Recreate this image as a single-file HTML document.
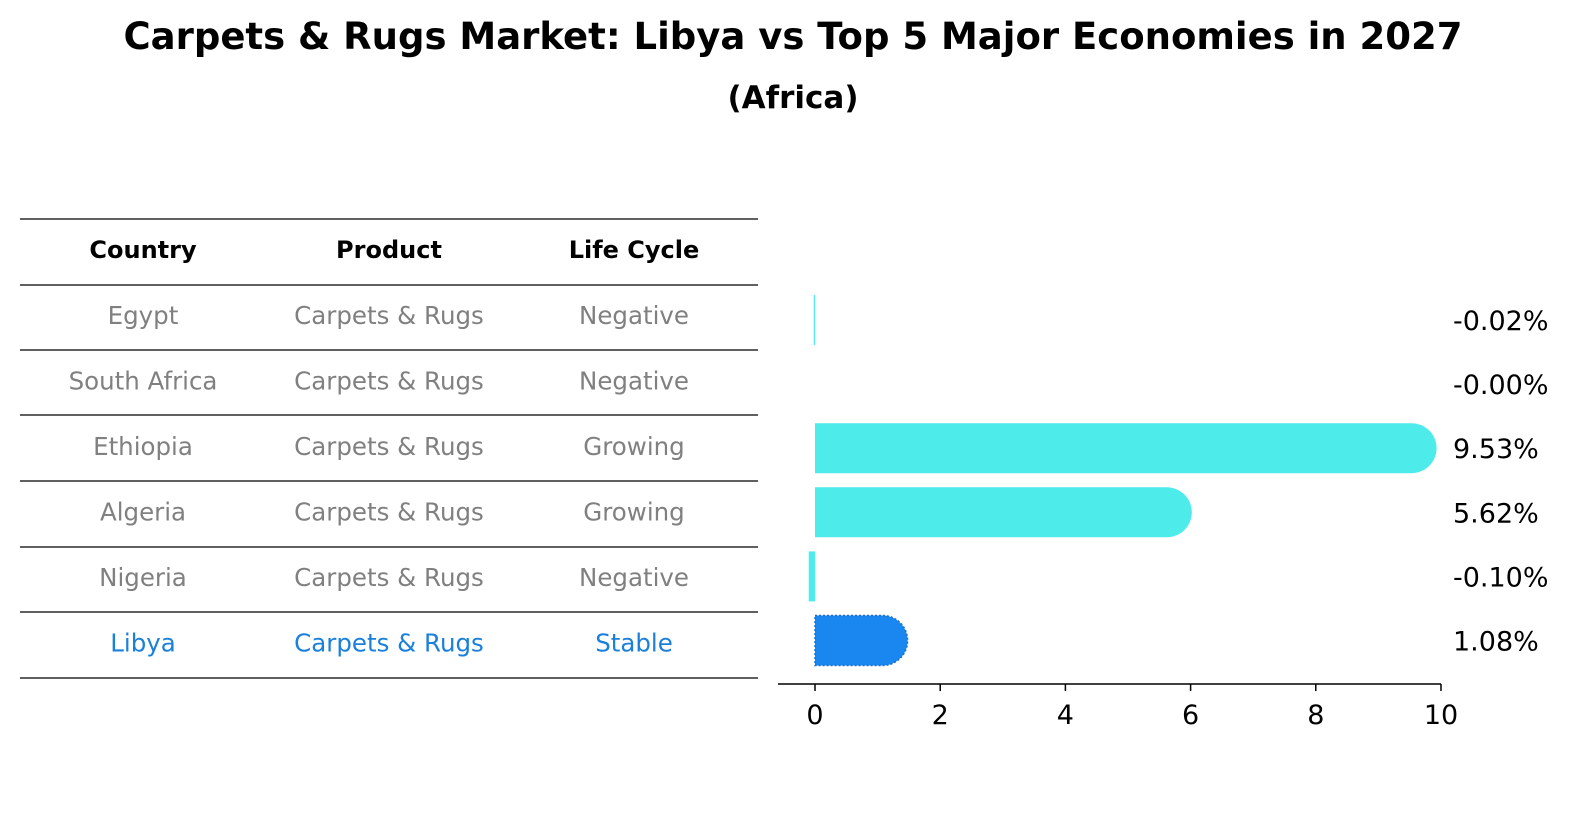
<!DOCTYPE html>
<html><head><meta charset="utf-8"><style>
body{margin:0;background:#fff;font-family:"DejaVu Sans","Liberation Sans",sans-serif}
svg text{font-family:"DejaVu Sans","Liberation Sans",sans-serif}
</style></head><body>
<svg width="1596" height="823" viewBox="0 0 1596 823" xmlns="http://www.w3.org/2000/svg">
<text x="793" y="49" text-anchor="middle" font-size="37" font-weight="bold">Carpets &amp; Rugs Market: Libya vs Top 5 Major Economies in 2027</text>
<text x="793" y="108" text-anchor="middle" font-size="31" font-weight="bold">(Africa)</text>
<g id="table"></g>
<g id="bars"></g>
<g id="axis"></g>
</svg>
<script>
const countries=["Egypt","South Africa","Ethiopia","Algeria","Nigeria","Libya"];
const products=["Carpets & Rugs","Carpets & Rugs","Carpets & Rugs","Carpets & Rugs","Carpets & Rugs","Carpets & Rugs"];
const lifeCycles=["Negative","Negative","Growing","Growing","Negative","Stable"];
const values=[-0.02,-0.00,9.53,5.62,-0.10,1.08];
const valueLabels=["-0.02%","-0.00%","9.53%","5.62%","-0.10%","1.08%"];
const ticks=[0,2,4,6,8,10];
const NS="http://www.w3.org/2000/svg";
function mk(t,a,p){const e=document.createElementNS(NS,t);for(const k in a)e.setAttribute(k,a[k]);p.appendChild(e);return e;}
const xs=v=>815+v*62.6;
const rowY=i=>320+i*64.1;
const tb=document.getElementById('table');
const lineYs=[219,285,350,415,481,547,612,678];
lineYs.forEach(y=>{const l=mk('line',{x1:20,x2:758,y1:y,y2:y,stroke:'#000','stroke-width':1.2},tb);

});
const cx=[143,389,634];
["Country","Product","Life Cycle"].forEach((h,j)=>{const t=mk('text',{x:cx[j],y:258,'text-anchor':'middle','font-size':24,'font-weight':'bold'},tb);t.textContent=h;

});
countries.forEach((c,i)=>{const y=324+i*65.5;const col=i===5?'#1a80dc':'#808080';
[c,products[i],lifeCycles[i]].forEach((s,j)=>{const t=mk('text',{x:cx[j],y:y,'text-anchor':'middle','font-size':24.5,fill:col},tb);t.textContent=s;

});});
const bg=document.getElementById('bars');const h=50,r=25;
values.forEach((v,i)=>{const cy=rowY(i),y0=cy-h/2;const col=i===5?'#1a86f0':'#4deceb';
let el;
if(v>0){const xe=xs(v);
el=mk('path',{d:`M${xs(0)} ${y0} H${xe} A${r} ${r} 0 0 1 ${xe} ${y0+h} H${xs(0)} Z`,fill:col},bg);
if(i===5){el.setAttribute('stroke','#1a6fd0');el.setAttribute('stroke-width','1.5');el.setAttribute('stroke-dasharray','2 2');}
}else{const w=Math.abs(xs(v)-xs(0));
el=mk('rect',{x:xs(v),y:y0,width:w<0.5&&v!==0?1:w,height:h,fill:col},bg);}


const t=mk('text',{x:1453,y:cy+10,'font-size':27},bg);t.textContent=valueLabels[i];

});
const ax=document.getElementById('axis');
mk('line',{x1:778,x2:xs(10),y1:684,y2:684,stroke:'#000','stroke-width':1.5},ax);
ticks.forEach(t=>{mk('line',{x1:xs(t),x2:xs(t),y1:684,y2:691,stroke:'#000','stroke-width':1.5},ax);
const tx=mk('text',{x:xs(t),y:724,'text-anchor':'middle','font-size':27},ax);tx.textContent=t;

});
</script>
</body></html>
